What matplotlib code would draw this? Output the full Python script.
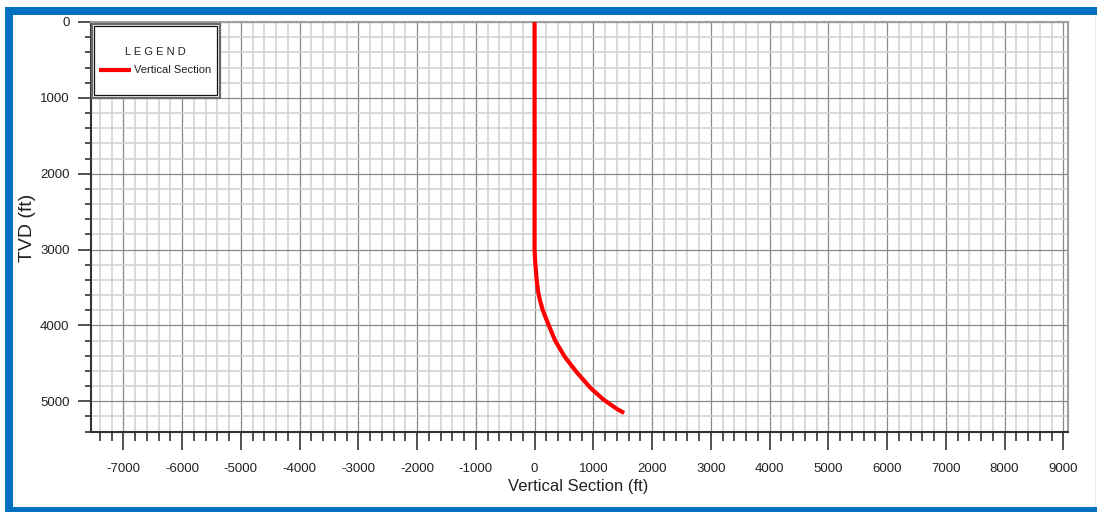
import matplotlib
matplotlib.use("Agg")
import matplotlib.pyplot as plt
from matplotlib.patches import Rectangle
from matplotlib.ticker import MultipleLocator
from matplotlib.lines import Line2D

# ---- data ----
vertical_section = [0, 0, 0, 10, 36, 62, 92, 140, 206, 350, 520, 720, 960, 1170, 1400, 1525]
tvd = [0, 1500, 3000, 3150, 3400, 3560, 3670, 3800, 3930, 4200, 4420, 4620, 4830, 4975, 5100, 5155]
series_name = "Vertical Section"
x_label = "Vertical Section (ft)"
y_label = "TVD (ft)"
legend_title = "L E G E N D"

plt.rcParams['font.family'] = ['Liberation Sans', 'DejaVu Sans']
plt.rcParams['axes.unicode_minus'] = False

W, H = 1097, 512
fig = plt.figure(figsize=(W / 100, H / 100), dpi=100)
fig.patch.set_facecolor('white')

def fx(px):
    return px / W

def fy(py):
    return 1 - py / H

# axes placement
L, R, T, B = 91, 1068, 22, 432
ax = fig.add_axes([fx(L), fy(B), fx(R) - fx(L), fy(T) - fy(B)])

ax.plot(vertical_section, tvd, color='#ff0000', lw=3.0, solid_capstyle='butt',
        solid_joinstyle='round', zorder=3, label=series_name)

ax.set_xlim(-7550, 9080)
ax.set_ylim(5405, 0)

ax.xaxis.set_major_locator(MultipleLocator(1000))
ax.xaxis.set_minor_locator(MultipleLocator(200))
ax.yaxis.set_major_locator(MultipleLocator(1000))
ax.yaxis.set_minor_locator(MultipleLocator(200))

ax.grid(which='minor', color='#d0d0d0', lw=1.1, zorder=0)
ax.grid(which='major', color='#8a8a8a', lw=0.9, zorder=1)
ax.set_axisbelow(True)

ax.tick_params(axis='x', which='major', length=13, width=1.1, color='#222222',
               labelsize=9.5, labelcolor='#222222', pad=9)
ax.tick_params(axis='x', which='minor', length=6.5, width=1.1, color='#222222')
ax.tick_params(axis='y', which='major', length=9.5, width=1.1, color='#222222',
               labelsize=9.5, labelcolor='#222222', pad=6)
ax.tick_params(axis='y', which='minor', length=4.5, width=1.1, color='#222222')

for s in ['left', 'bottom']:
    ax.spines[s].set_color('#333333')
    ax.spines[s].set_linewidth(1.5)
for s in ['top', 'right']:
    ax.spines[s].set_color('#a0a0a0')
    ax.spines[s].set_linewidth(1.5)

ax.set_xlabel(x_label, fontsize=12, color='#222222', va='center', ha='center')
ax.xaxis.set_label_coords((578 - L) / (R - L), (B - 486) / (B - T))
ax.set_ylabel(y_label, fontsize=14, color='#222222', va='center', ha='center')
ax.yaxis.set_label_coords((28 - L) / (R - L), (B - 228) / (B - T))

# legend box (double border)
ax.add_patch(Rectangle((fx(91.7), fy(97.5)), fx(219.5) - fx(91.7), fy(23.5) - fy(97.5),
                       transform=fig.transFigure, facecolor='white', edgecolor='#6a6a6a',
                       lw=1.6, clip_on=False, zorder=4))
ax.add_patch(Rectangle((fx(94), fy(95)), fx(217) - fx(94), fy(26) - fy(95),
                       transform=fig.transFigure, facecolor='none', edgecolor='#111111',
                       lw=0.9, clip_on=False, zorder=4.1))

handle = Line2D([], [], color='#ff0000', lw=3.0, solid_capstyle='butt')
leg = ax.legend([handle], [series_name], title=legend_title, loc='center',
                bbox_to_anchor=(fx(155), fy(61)), bbox_transform=fig.transFigure,
                frameon=False, fontsize=8, title_fontsize=8, handlelength=2.9,
                handletextpad=0.3, labelspacing=0.8, borderpad=0.2)
leg.set_zorder(5)
leg.get_title().set_color('#222222')
for t in leg.get_texts():
    t.set_color('#222222')

# blue frame around the picture
blue = '#0070c0'
fig.patches.append(Rectangle((fx(5), fy(15)), fx(1097) - fx(5), fy(7) - fy(15),
                             transform=fig.transFigure, facecolor=blue, edgecolor='none', zorder=10))
fig.patches.append(Rectangle((fx(5), fy(512)), fx(13) - fx(5), fy(7) - fy(512),
                             transform=fig.transFigure, facecolor=blue, edgecolor='none', zorder=10))
fig.patches.append(Rectangle((fx(5), fy(512)), fx(1097) - fx(5), fy(507) - fy(512),
                             transform=fig.transFigure, facecolor=blue, edgecolor='none', zorder=10))
fig.patches.append(Rectangle((fx(1094.5), fy(507)), fx(1095.5) - fx(1094.5), fy(15) - fy(507),
                             transform=fig.transFigure, facecolor='#e4eef8', edgecolor='none', zorder=10))

fig.savefig('out.png', dpi=100)
